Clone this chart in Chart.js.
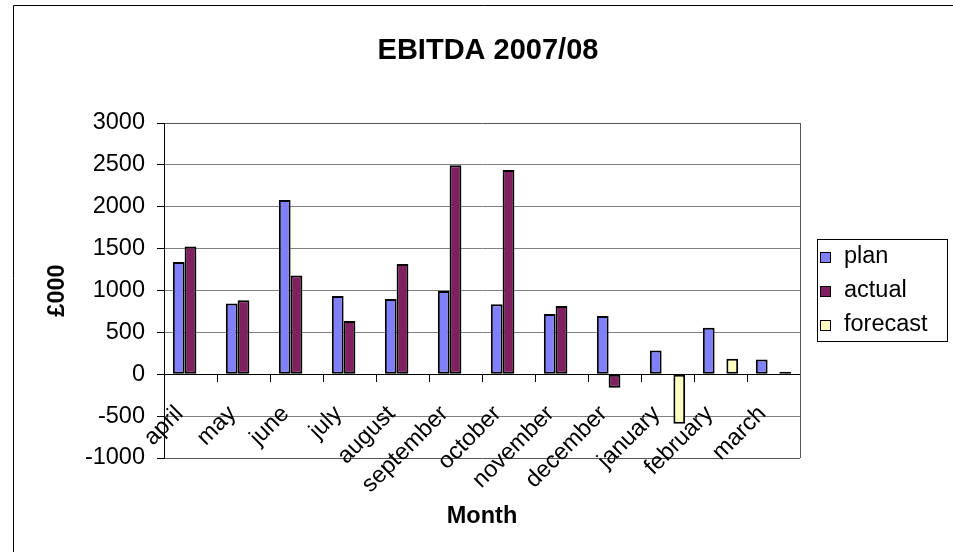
<!DOCTYPE html>
<html>
<head>
<meta charset="utf-8">
<script src="https://cdn.jsdelivr.net/npm/chart.js@4/dist/chart.umd.min.js"></script>
<style>
  html, body { margin: 0; padding: 0; background: #ffffff; }
  #wrap { width: 953px; height: 552px; position: relative; }
</style>
</head>
<body>
<div id="wrap"><canvas id="c" width="953" height="552"></canvas></div>
<script>
// EBITDA by month, financial year 2007/08 (£000)
const months = ['april', 'may', 'june', 'july', 'august', 'september',
                'october', 'november', 'december', 'january', 'february', 'march'];
const plan     = [1340, 845, 2080, 935, 900, 995, 835, 720, 695, 285, 555, 175];
const actual   = [1525, 885, 1180, 635, 1315, 2495, 2440, 815, -160, null, null, null];
const forecast = [null, null, null, null, null, null, null, null, null, -590, 185, 30];
const yTicks   = [-1000, -500, 0, 500, 1000, 1500, 2000, 2500, 3000];

const chartTitle = 'EBITDA 2007/08';
const xTitle = 'Month';
const yTitle = '£000';

const FONT = "'Liberation Sans', Arial, Helvetica, sans-serif";

// Common bar styling: black outline on all four sides
const barStyle = {
  borderColor: '#000000',
  borderWidth: 2,
  borderSkipped: false,
  categoryPercentage: 3 / 4.5,
  barPercentage: 1.0
};

// Title, axis titles, boxed legend, plot frame and outer border
const framePlugin = {
  id: 'frame',
  afterDatasetsDraw(chart) {
    const { ctx, chartArea: a } = chart;
    ctx.save();
    ctx.strokeStyle = '#555555';
    ctx.lineWidth = 1;
    ctx.beginPath();
    ctx.moveTo(Math.round(a.right) + 0.5, a.top);
    ctx.lineTo(Math.round(a.right) + 0.5, a.bottom);
    ctx.stroke();
    ctx.restore();
  },
  afterDraw(chart) {
    const { ctx, chartArea: a } = chart;
    ctx.save();

    // outer border (left and top)
    ctx.strokeStyle = '#000000';
    ctx.lineWidth = 1;
    ctx.beginPath();
    ctx.moveTo(13.5, chart.height);
    ctx.lineTo(13.5, 5.5);
    ctx.lineTo(chart.width, 5.5);
    ctx.stroke();

    // chart title
    ctx.fillStyle = '#000000';
    ctx.textAlign = 'center';
    ctx.textBaseline = 'middle';
    ctx.font = 'bold 29px ' + FONT;
    ctx.fillText(chartTitle, a.left + 324, a.top - 72);

    // axis titles
    ctx.font = 'bold 23.5px ' + FONT;
    ctx.fillText(xTitle, a.left + 318, a.bottom + 59);
    ctx.save();
    ctx.translate(57.5, (a.top + a.bottom) / 2);
    ctx.rotate(-Math.PI / 2);
    ctx.fillText(yTitle, 0, 0);
    ctx.restore();

    // legend
    const lx = a.right + 17, ly = a.top + 116, lw = 130, lh = 102;
    ctx.strokeStyle = '#000000';
    ctx.lineWidth = 1;
    ctx.strokeRect(Math.round(lx) + 0.5, Math.round(ly) + 0.5, lw, lh);
    ctx.font = '23.5px ' + FONT;
    ctx.textAlign = 'left';
    chart.data.datasets.forEach((ds, i) => {
      const cy = ly + 18 + i * 33.8;
      const bx = Math.round(lx) + 3.5;
      ctx.fillStyle = ds.backgroundColor;
      ctx.fillRect(bx, Math.round(cy - 5) + 0.5, 10, 10);
      ctx.strokeStyle = '#000000';
      ctx.strokeRect(bx, Math.round(cy - 5) + 0.5, 10, 10);
      ctx.fillStyle = '#000000';
      ctx.fillText(ds.label, lx + 27, cy);
    });
    ctx.restore();
  }
};

new Chart(document.getElementById('c'), {
  type: 'bar',
  data: {
    labels: months,
    datasets: [
      Object.assign({ label: 'plan',     data: plan,     backgroundColor: '#8080FF' }, barStyle),
      Object.assign({ label: 'actual',   data: actual,   backgroundColor: '#802060' }, barStyle),
      Object.assign({ label: 'forecast', data: forecast, backgroundColor: '#FFFFC0' }, barStyle)
    ]
  },
  options: {
    responsive: false,
    animation: false,
    devicePixelRatio: 1,
    layout: { padding: { left: 0, top: 123, right: 153, bottom: 94 } },
    plugins: {
      legend: { display: false },
      title: { display: false },
      tooltip: { enabled: false }
    },
    scales: {
      x: {
        type: 'category',
        position: { y: 0 },
        offset: true,
        grid: {
          offset: true,
          drawOnChartArea: false,
          drawTicks: true,
          tickLength: 7,
          tickColor: '#000000'
        },
        border: { display: true, color: '#000000', width: 1 },
        ticks: {
          autoSkip: false,
          minRotation: 45,
          maxRotation: 45,
          padding: 19,
          labelOffset: -11,
          color: '#000000',
          font: { family: FONT, size: 23.5 }
        }
      },
      y: {
        position: 'left',
        min: -1000,
        max: 3000,
        afterBuildTicks(scale) {
          scale.ticks = yTicks.map(v => ({ value: v }));
        },
        afterFit(scale) { scale.width = 164; },
        grid: {
          color: (c) => (c.tick && (c.tick.value === 3000 || c.tick.value === -1000)) ? '#555555' : '#808080',
          lineWidth: 1,
          tickLength: 7,
          tickColor: '#000000'
        },
        border: { display: true, color: '#000000', width: 1 },
        ticks: {
          padding: 12,
          color: '#000000',
          font: { family: FONT, size: 23.5 },
          callback: (v) => String(v)
        }
      }
    }
  },
  plugins: [framePlugin]
});
</script>
</body>
</html>
